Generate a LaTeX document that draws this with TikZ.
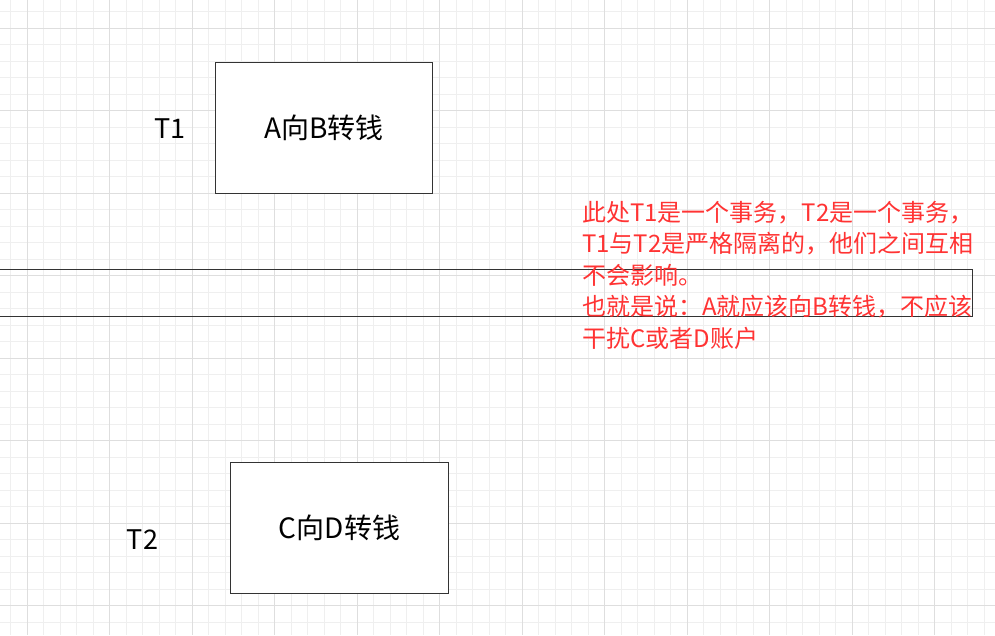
\documentclass[tikz,border=0pt]{standalone}
\usepackage{fontspec}
\setmainfont{Noto Sans CJK SC}
\usepackage{tikz}
\usetikzlibrary{positioning}
\definecolor{gridminor}{HTML}{EFEFEF}
\definecolor{gridmajor}{HTML}{DEDEDE}
\definecolor{notered}{HTML}{FF3333}
\definecolor{edge}{HTML}{333333}

\begin{document}
\begin{tikzpicture}
	[x=1pt,y=-1pt,
	 minorline/.style={draw=gridminor,line width=1pt},
	 majorline/.style={draw=gridmajor,line width=1pt},
	 txbox/.style={draw=edge,line width=1pt,fill=white,minimum width=217pt,minimum height=131pt,inner sep=0pt,font=\fontsize{28}{34}\selectfont},
	 tlabel/.style={font=\fontsize{27}{34}\selectfont,inner sep=0pt},
	 note/.style={text=notered,align=left,inner sep=0pt,font=\fontsize{24}{31.4}\selectfont}]
	\useasboundingbox (0,0) rectangle (995,635);
	\fill[white] (0,0) rectangle (995,635);
	% grid
	\foreach \i in {0,...,59}
		\draw[minorline] ({10.5+16.5*\i},0) -- ({10.5+16.5*\i},635);
	\foreach \i in {0,...,38}
		\draw[minorline] (0,{11.5+16.5*\i}) -- (995,{11.5+16.5*\i});
	\foreach \i in {0,...,11}
		\draw[majorline] ({27+82.5*\i},0) -- ({27+82.5*\i},635);
	\foreach \i in {0,...,7}
		\draw[majorline] (0,{28+82.5*\i}) -- (995,{28+82.5*\i});
	% band
	\draw[draw=edge,line width=1pt] (-5,269.5) rectangle (972.5,316);
	% boxes
	\node[txbox] (boxAB) at (324,127.75) {A向B转钱};
	\node[txbox,minimum width=218pt] (boxCD) at (339.5,528) {C向D转钱};
	\node[tlabel] (labelT1) at (170,129) {T1};
	\node[tlabel] (labelT2) at (142.5,540) {T2};
	% note
	\node[note,anchor=base west] (notetext) at (582,347) {此处T1是一个事务，T2是一个事务，\\T1与T2是严格隔离的，他们之间互相\\不会影响。\\也就是说：A就应该向B转钱，不应该\\干扰C或者D账户};
\end{tikzpicture}
\end{document}
